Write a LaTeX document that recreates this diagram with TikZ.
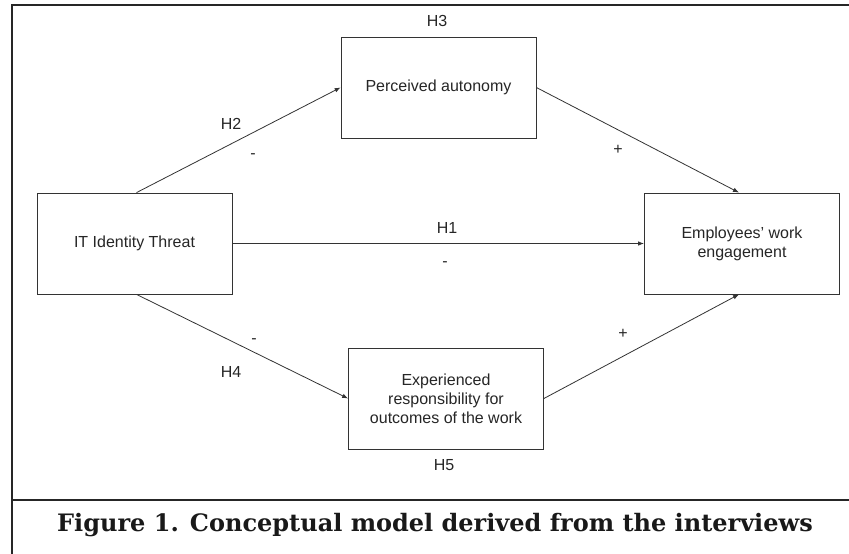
\documentclass[tikz,border=0pt]{standalone}
\usepackage{fontspec}
\setmainfont{Liberation Sans}
\newfontfamily\capfont{DejaVu Serif}
\usetikzlibrary{arrows.meta}
\begin{document}
\begin{tikzpicture}[x=1pt,y=-1pt,
  box/.style={draw=black!80, line width=0.8pt, minimum width=195pt, minimum height=101pt,
    inner sep=0pt, align=center, font=\fontsize{16}{19}\selectfont, text=black!85},
  lbl/.style={font=\fontsize{16}{19}\selectfont, inner sep=0pt, text=black!85},
  arr/.style={draw=black!80, line width=0.8pt, -{Latex[length=6pt,width=4.5pt]}},
  frameline/.style={draw=black!85, line width=2pt}]
\useasboundingbox (0,0) rectangle (849,554);
\fill[white] (0,0) rectangle (849,554);
\draw[frameline] (12,554) -- (12,5) -- (849,5);
\draw[frameline] (12,500) -- (849,500);
\node[box] (itt) at (134.5,243.5) {IT Identity Threat};
\node[box] (pa) at (438.5,87.5) {Perceived autonomy};
\node[box] (ewe) at (742,243.5) {Employees’ work\\engagement};
\node[box] (ero) at (446,398.5) {Experienced\\responsibility for\\outcomes of the work};
\draw[arr] ([xshift=2pt]itt.north) -- (pa.west);
\draw[arr] (pa.east) -- ([xshift=-3pt]ewe.north);
\draw[arr] (itt.east) -- (ewe.west);
\draw[arr] ([xshift=2pt]itt.south) -- (ero.west);
\draw[arr] (ero.east) -- ([xshift=-3pt]ewe.south);
\node[lbl] (h3) at (437,21) {H3};
\node[lbl] (h2) at (231,124) {H2};
\node[lbl] (m2) at (253,156) {-};
\node[lbl] (p3) at (618,150) {+};
\node[lbl] (h1) at (447,228) {H1};
\node[lbl] (m1) at (445,264) {-};
\node[lbl] (m4) at (254,341) {-};
\node[lbl] (h4) at (231,372) {H4};
\node[lbl] (h5) at (444,465) {H5};
\node[lbl] (p5) at (623,334) {+};
\node[inner sep=0pt, text=black!90, font=\capfont\bfseries\fontsize{24}{28}\selectfont] (cap) at (435,525) {Figure 1. Conceptual model derived from the interviews};
\end{tikzpicture}
\end{document}
